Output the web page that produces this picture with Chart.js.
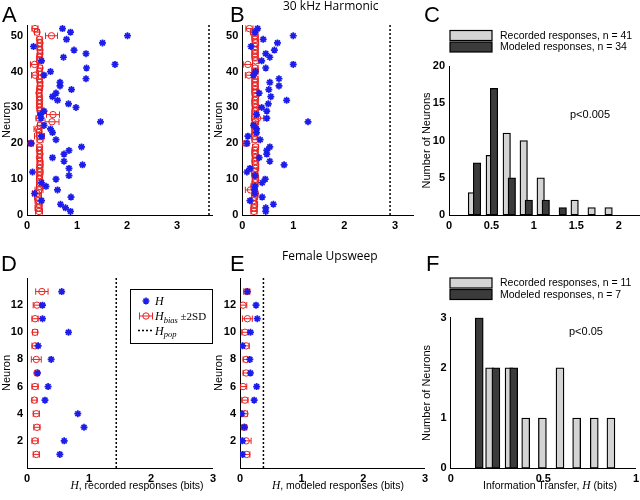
<!DOCTYPE html>
<html>
<head>
<meta charset="utf-8">
<title>Information transfer per neuron</title>
<script src="https://cdn.jsdelivr.net/npm/chart.js@4.4.1/dist/chart.umd.min.js"></script>
<style>
  html, body { margin: 0; padding: 0; background: #fff; }
  body { position: relative; width: 640px; height: 500px; overflow: hidden;
         font-family: 'Liberation Sans', Arial, sans-serif; color: #000; }
  canvas { position: absolute; }
  .txt { position: absolute; white-space: nowrap; line-height: 1; }
  .panel { font-size: 22px; }
  .head { font-family: 'Open Sans', sans-serif; font-size: 12px; }
  .note { font-size: 11px; }
  .xt { font-size: 10.5px; transform: translateX(-50%); }
  .xt i { font-family: 'Liberation Serif', serif; font-size: 11.5px; }
</style>
</head>
<body>
<canvas id="cA" width="213" height="240" style="left:0;top:0"></canvas>
<canvas id="cB" width="213" height="240" style="left:212px;top:0"></canvas>
<canvas id="cC" width="220" height="240" style="left:420px;top:0"></canvas>
<canvas id="cD" width="220" height="250" style="left:0;top:250px"></canvas>
<canvas id="cE" width="220" height="250" style="left:212px;top:250px"></canvas>
<canvas id="cF" width="223" height="250" style="left:420px;top:250px"></canvas>

<div class="txt panel" style="left:2px;top:4px">A</div>
<div class="txt panel" style="left:230px;top:4px">B</div>
<div class="txt panel" style="left:424px;top:4px">C</div>
<div class="txt panel" style="left:1px;top:253px">D</div>
<div class="txt panel" style="left:230px;top:253px">E</div>
<div class="txt panel" style="left:426px;top:253px">F</div>

<div class="txt head" style="left:283px;top:0px">30 kHz Harmonic</div>
<div class="txt head" style="left:282px;top:250px">Female Upsweep</div>

<div class="txt note" style="left:570px;top:109px">p&lt;0.005</div>
<div class="txt note" style="left:569px;top:326px">p&lt;0.05</div>

<div class="txt xt" style="left:137px;top:480px"><i>H</i>, recorded responses (bits)</div>
<div class="txt xt" style="left:338px;top:480px"><i>H</i>, modeled responses (bits)</div>
<div class="txt xt" style="left:550px;top:480px">Information Transfer, <i>H</i> (bits)</div>

<script>
// ---- 30 kHz harmonic, neurons 1..52 (index 0 = neuron 1) ----
const harmRecH = [0.87, 0.77, 0.67, 0.29, 0.88, 0.15, 0.61, 0.38, 0.29, 0.58,
                  0.84, 0.11, 0.84, 1.11, 0.74, 0.51, 0.74, 0.84, 1.09, 0.08,
                  0.58, 0.29, 0.51, 0.47, 0.34, 1.47, 0.28, 0.27, 0.34, 0.98,
                  0.83, 0.61, 0.51, 0.58, 0.89, 0.66, 0.66, 1.18, 0.34, 0.47,
                  1.19, 1.76, 0.29, 0.73, 1.18, 0.94, 0.13, 1.51, 0.79, 2.01,
                  0.87, 0.71];
const harmRecBias = [0.24, 0.23, 0.24, 0.23, 0.22, 0.20, 0.24, 0.25, 0.26, 0.25,
                     0.25, 0.26, 0.25, 0.26, 0.26, 0.25, 0.26, 0.25, 0.25, 0.08,
                     0.26, 0.25, 0.24, 0.22, 0.26, 0.50, 0.24, 0.52, 0.26, 0.25,
                     0.25, 0.25, 0.25, 0.24, 0.25, 0.26, 0.26, 0.25, 0.16, 0.25,
                     0.26, 0.15, 0.25, 0.25, 0.26, 0.26, 0.25, 0.26, 0.25, 0.49,
                     0.20, 0.16];
const harmRecSD2 = [0.07, 0.07, 0.06, 0.07, 0.07, 0.09, 0.08, 0.06, 0.07, 0.06,
                    0.05, 0.06, 0.05, 0.06, 0.05, 0.05, 0.05, 0.05, 0.05, 0.05,
                    0.06, 0.10, 0.05, 0.08, 0.05, 0.14, 0.06, 0.13, 0.05, 0.05,
                    0.05, 0.05, 0.05, 0.05, 0.05, 0.05, 0.05, 0.05, 0.07, 0.05,
                    0.05, 0.08, 0.05, 0.05, 0.05, 0.05, 0.05, 0.05, 0.05, 0.12,
                    0.05, 0.06];
const harmRecHpop = 3.64;

const harmModH = [0.46, 0.46, 0.61, 0.15, 0.39, 0.25, 0.24, 0.25, 0.39, 0.45,
                  0.25, 0.09, 0.15, 0.82, 0.54, 0.33, 0.48, 0.48, 0.54, 0.09,
                  0.35, 0.11, 0.28, 0.28, 0.22, 1.29, 0.48, 0.28, 0.48, 0.38,
                  0.51, 0.87, 0.56, 0.33, 0.52, 0.72, 0.54, 0.72, 0.22, 0.26,
                  0.46, 1.00, 0.38, 0.54, 0.46, 0.63, 0.17, 0.69, 0.41, 1.00,
                  0.25, 0.30];
const harmModBias = [0.23, 0.23, 0.24, 0.22, 0.24, 0.25, 0.16, 0.23, 0.25, 0.26,
                     0.25, 0.24, 0.26, 0.26, 0.25, 0.26, 0.25, 0.25, 0.26, 0.07,
                     0.25, 0.24, 0.25, 0.25, 0.24, 0.26, 0.30, 0.25, 0.25, 0.26,
                     0.25, 0.25, 0.26, 0.25, 0.25, 0.25, 0.25, 0.25, 0.13, 0.25,
                     0.25, 0.11, 0.26, 0.25, 0.25, 0.25, 0.25, 0.26, 0.25, 0.25,
                     0.22, 0.14];
const harmModSD2 = [0.06, 0.06, 0.06, 0.06, 0.06, 0.06, 0.10, 0.06, 0.06, 0.06,
                    0.06, 0.06, 0.06, 0.06, 0.06, 0.06, 0.06, 0.06, 0.06, 0.06,
                    0.06, 0.06, 0.06, 0.06, 0.06, 0.06, 0.12, 0.06, 0.06, 0.06,
                    0.06, 0.06, 0.06, 0.06, 0.06, 0.06, 0.06, 0.06, 0.07, 0.06,
                    0.06, 0.09, 0.06, 0.06, 0.06, 0.06, 0.06, 0.06, 0.06, 0.06,
                    0.06, 0.07];
const harmModHpop = 2.9;

// histogram of H, 30 kHz harmonic
const harmRecBinX = [0.27, 0.48, 0.68, 0.88, 1.08, 1.48, 1.68, 1.88];
const harmRecCount = [3, 8, 11, 10, 5, 2, 1, 1];
const harmModBinX = [0.33, 0.53, 0.74, 0.94, 1.14, 1.34];
const harmModCount = [7, 17, 5, 2, 2, 1];

// ---- female upsweep, neurons 1..13 ----
const upRecH = [0.53, 0.60, 0.92, 0.82, 0.29, 0.34, 0.17, 0.39, 0.18, 0.67, 0.25, 0.25, 0.56];
const upRecBias = [0.15, 0.13, 0.16, 0.15, 0.12, 0.13, 0.16, 0.15, 0.13, 0.13, 0.13, 0.16, 0.24];
const upRecSD2 = [0.05, 0.05, 0.05, 0.05, 0.04, 0.05, 0.03, 0.08, 0.05, 0.04, 0.05, 0.06, 0.10];
const upRecHpop = 1.44;

const upModH = [0.04, 0.04, 0.07, 0.03, 0.23, 0.27, 0.17, 0.16, 0.04, 0.17, 0.28, 0.26, 0.12];
const upModBias = [0.11, 0.10, 0.07, 0.08, 0.08, 0.05, 0.10, 0.10, 0.10, 0.08, 0.12, 0.05, 0.11];
const upModSD2 = [0.05, 0.08, 0.04, 0.04, 0.05, 0.06, 0.05, 0.05, 0.05, 0.05, 0.08, 0.06, 0.05];
const upModHpop = 0.38;

const upRecBinX = [0.21, 0.315, 0.405, 0.495, 0.59, 0.68, 0.775, 0.865];
const upRecCount = [2, 2, 1, 1, 2, 1, 1, 1];
const upModBinX = [0.154, 0.244, 0.34];
const upModCount = [3, 2, 2];

// tick labels
const neuronTicksHarm = [0, 10, 20, 30, 40, 50];
const neuronTicksUp = [2, 4, 6, 8, 10, 12];
const hTicks = [0, 1, 2, 3];
const harmHistXTicks = [0, 0.5, 1, 1.5, 2];
const harmHistYTicks = [0, 5, 10, 15, 20];
const upHistXTicks = [0, 0.5, 1];
const upHistYTicks = [0, 1, 2, 3];

const BLUE = 'rgb(28,28,235)';
const RED = 'rgb(232,34,34)';
const LIGHT = '#d4d4d4';
const DARK = '#3b3b3b';

Chart.defaults.font.family = "'Liberation Sans', Arial, sans-serif";
Chart.defaults.color = '#000';
Chart.defaults.animation = false;

// plain MATLAB-like axes: left and bottom lines only, fixed tick lists
function axes(b) {
    return {
        x: {
            type: 'linear', min: b.xMin, max: b.xMax, offset: false,
            afterBuildTicks: s => { s.ticks = b.xTicks.map(v => ({ value: v })); },
            afterFit: s => { s.height = b.xH; },
            grid: { display: false, drawTicks: false },
            border: { color: '#000', width: 1 },
            ticks: { font: { size: 11, weight: 'bold' }, padding: 4, maxRotation: 0, autoSkip: false, z: 1,
                     callback: v => String(v) }
        },
        y: {
            type: 'linear', min: b.yMin, max: b.yMax,
            afterBuildTicks: s => { s.ticks = b.yTicks.map(v => ({ value: v })); },
            afterFit: s => { s.width = b.yW; },
            grid: { display: false, drawTicks: false },
            border: { color: '#000', width: 1 },
            ticks: { font: { size: 11, weight: 'bold' }, padding: 4, autoSkip: false, z: 1,
                     callback: v => String(v) },
            title: { display: true, text: b.yTitle, font: { size: 11 }, padding: 0 }
        }
    };
}

// legend with filled swatches (histograms); dataset 0 is drawn on top so the list is reversed
const swatchLegend = {
    id: 'swatchLegend',
    afterDraw(chart, args, o) {
        const ctx = chart.ctx;
        const items = chart.data.datasets.slice().reverse();
        ctx.save();
        ctx.font = o.font;
        ctx.textBaseline = 'middle';
        items.forEach((ds, i) => {
            const y = o.top + i * o.step;
            ctx.fillStyle = ds.backgroundColor;
            ctx.fillRect(o.left, y, o.w, o.h);
            ctx.lineWidth = 1.2;
            ctx.strokeStyle = '#000';
            ctx.strokeRect(o.left, y, o.w, o.h);
            ctx.fillStyle = '#000';
            ctx.fillText(ds.label, o.left + o.w + o.gap, y + o.h / 2 + 0.5);
        });
        ctx.restore();
    }
};

function textRuns(ctx, x, y, parts) {
    parts.forEach(p => {
        ctx.font = p.f;
        ctx.fillText(p.t, x, y + (p.dy || 0));
        x += ctx.measureText(p.t).width;
    });
}

// boxed key for H, H_bias and H_pop (panel D)
const keyLegend = {
    id: 'keyLegend',
    afterDraw(chart, args, o) {
        if (!o.show) return;
        const ctx = chart.ctx;
        const ds = chart.data.datasets;
        const it = "italic 12px 'Liberation Serif', serif";
        const sub = "italic 8.5px 'Liberation Serif', serif";
        const rm = "11px 'Liberation Serif', serif";
        ctx.save();
        ctx.fillStyle = '#fff';
        ctx.fillRect(o.x, o.y, o.w, o.h);
        ctx.strokeStyle = '#000';
        ctx.lineWidth = 1;
        ctx.strokeRect(o.x + 0.5, o.y + 0.5, o.w, o.h);
        const sx = o.x + 16, tx = o.x + 25;
        const r1 = o.y + 12, r2 = r1 + 15, r3 = r2 + 14.5;
        ctx.fillStyle = 'rgba(0,0,0,0)';
        ctx.strokeStyle = ds[0].pointBorderColor;
        ctx.lineWidth = ds[0].pointBorderWidth;
        Chart.helpers.drawPoint(ctx, { pointStyle: 'star', radius: ds[0].pointRadius, rotation: 0, borderWidth: ds[0].pointBorderWidth }, sx, r1);
        ctx.strokeStyle = ds[1].pointBorderColor;
        ctx.lineWidth = 1;
        Chart.helpers.drawPoint(ctx, { pointStyle: 'circle', radius: ds[1].pointRadius, rotation: 0, borderWidth: 1 }, sx, r2);
        ctx.beginPath();
        ctx.moveTo(sx - 6.5, r2); ctx.lineTo(sx + 6.5, r2);
        ctx.moveTo(sx - 6.5, r2 - 3.5); ctx.lineTo(sx - 6.5, r2 + 3.5);
        ctx.moveTo(sx + 6.5, r2 - 3.5); ctx.lineTo(sx + 6.5, r2 + 3.5);
        ctx.stroke();
        ctx.strokeStyle = '#000';
        ctx.lineWidth = ds[3].borderWidth;
        ctx.setLineDash(ds[3].borderDash);
        ctx.beginPath();
        ctx.moveTo(sx - 8, r3); ctx.lineTo(sx + 8, r3);
        ctx.stroke();
        ctx.setLineDash([]);
        ctx.fillStyle = '#000';
        ctx.textBaseline = 'alphabetic';
        textRuns(ctx, tx, r1 + 4, [{ t: 'H', f: it }]);
        textRuns(ctx, tx, r2 + 4, [{ t: 'H', f: it }, { t: 'bias', f: sub, dy: 2.5 }, { t: ' \u00b12SD', f: rm }]);
        textRuns(ctx, tx, r3 + 4, [{ t: 'H', f: it }, { t: 'pop', f: sub, dy: 2.5 }]);
        ctx.restore();
    }
};

function neuronPanel(id, H, bias, sd2, hpop, box, key) {
    const stars = H.map((v, i) => ({ x: v, y: i + 1 }));
    const circles = bias.map((v, i) => ({ x: v, y: i + 1 }));
    // each error bar is a two-point segment; the null point breaks the line between neurons
    const bars = [];
    bias.forEach((v, i) => {
        bars.push({ x: v - sd2[i], y: i + 1 }, { x: v + sd2[i], y: i + 1 }, { x: null, y: null });
    });
    return new Chart(document.getElementById(id), {
        type: 'scatter',
        data: {
            datasets: [
                { label: 'H', data: stars, pointStyle: 'star', pointRadius: 3.5,
                  pointBorderColor: BLUE, pointBorderWidth: 1.7, pointBackgroundColor: BLUE },
                { label: 'H bias', data: circles, pointStyle: 'circle', pointRadius: 3.2,
                  pointBorderColor: RED, pointBorderWidth: 1, pointBackgroundColor: 'rgba(0,0,0,0)' },
                { label: '±2SD', data: bars, showLine: true, spanGaps: false,
                  borderColor: RED, borderWidth: 1, pointStyle: 'line', pointRotation: 90,
                  pointRadius: 3.2, pointBorderColor: RED, pointBorderWidth: 1 },
                { label: 'H pop', data: [{ x: hpop, y: box.yMin }, { x: hpop, y: box.yMax }],
                  showLine: true, pointRadius: 0, borderColor: '#000', borderWidth: 1.5, borderDash: [2, 2] }
            ]
        },
        options: {
            responsive: false,
            events: [],
            layout: { padding: box.pad, autoPadding: false },
            scales: axes(box),
            plugins: { legend: { display: false }, tooltip: { enabled: false },
                       keyLegend: key || { show: false } }
        },
        plugins: [keyLegend]
    });
}

function histPanel(id, recX, recN, recLabel, modX, modN, modLabel, box, thick, leg) {
    return new Chart(document.getElementById(id), {
        type: 'bar',
        data: {
            datasets: [
                { label: modLabel, data: modX.map((x, i) => ({ x: x, y: modN[i] })),
                  backgroundColor: DARK, borderColor: '#000', borderWidth: 1.3,
                  borderSkipped: false, barThickness: thick, grouped: false },
                { label: recLabel, data: recX.map((x, i) => ({ x: x, y: recN[i] })),
                  backgroundColor: LIGHT, borderColor: '#000', borderWidth: 1.3,
                  borderSkipped: false, barThickness: thick, grouped: false }
            ]
        },
        options: {
            responsive: false,
            events: [],
            layout: { padding: box.pad, autoPadding: false },
            scales: axes(box),
            plugins: { legend: { display: false }, tooltip: { enabled: false }, swatchLegend: leg }
        },
        plugins: [swatchLegend]
    });
}

neuronPanel('cA', harmRecH, harmRecBias, harmRecSD2, harmRecHpop, {
    xMin: 0, xMax: 3.7, yMin: 0, yMax: 53, xTicks: hTicks, yTicks: neuronTicksHarm,
    yW: 27, xH: 25, yTitle: 'Neuron', pad: { left: 0, top: 25, right: 1, bottom: 0 }
});
neuronPanel('cB', harmModH, harmModBias, harmModSD2, harmModHpop, {
    xMin: 0, xMax: 3.35, yMin: 0, yMax: 53, xTicks: hTicks, yTicks: neuronTicksHarm,
    yW: 30.3, xH: 25, yTitle: 'Neuron', pad: { left: 0, top: 25, right: 12, bottom: 0 }
});
histPanel('cC', harmRecBinX, harmRecCount, 'Recorded responses, n = 41',
    harmModBinX, harmModCount, 'Modeled responses, n = 34', {
    xMin: 0, xMax: 2.25, yMin: 0, yMax: 20, xTicks: harmHistXTicks, yTicks: harmHistYTicks,
    yW: 29, xH: 25, yTitle: 'Number of Neurons', pad: { left: 0, top: 66, right: 0, bottom: 0 }
}, 7.5, { left: 30, top: 30.5, step: 11.5, w: 42, h: 10, gap: 8, font: "10.5px 'Liberation Sans', Arial, sans-serif" });

neuronPanel('cD', upRecH, upRecBias, upRecSD2, upRecHpop, {
    xMin: 0, xMax: 3, yMin: 0, yMax: 14, xTicks: hTicks, yTicks: neuronTicksUp,
    yW: 27, xH: 32, yTitle: 'Neuron', pad: { left: 0, top: 28, right: 7, bottom: 0 }
}, { show: true, x: 130, y: 39, w: 82, h: 54 });
neuronPanel('cE', upModH, upModBias, upModSD2, upModHpop, {
    xMin: 0, xMax: 3, yMin: 0, yMax: 14, xTicks: hTicks, yTicks: neuronTicksUp,
    yW: 28, xH: 32, yTitle: 'Neuron', pad: { left: 0, top: 28, right: 7, bottom: 0 }
});
histPanel('cF', upRecBinX, upRecCount, 'Recorded responses, n = 11',
    upModBinX, upModCount, 'Modeled responses, n = 7', {
    xMin: 0, xMax: 1, yMin: 0, yMax: 3, xTicks: upHistXTicks, yTicks: upHistYTicks,
    yW: 30.7, xH: 31.7, yTitle: 'Number of Neurons', pad: { left: 0, top: 67.7, right: 7, bottom: 0 }
}, 8, { left: 30, top: 28, step: 11.5, w: 42, h: 10, gap: 8, font: "10.5px 'Liberation Sans', Arial, sans-serif" });
</script>
</body>
</html>
